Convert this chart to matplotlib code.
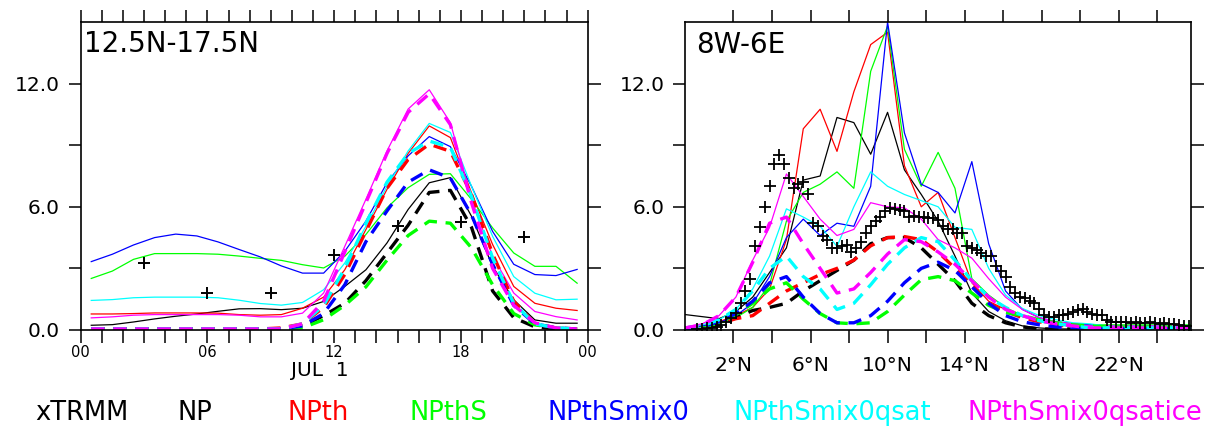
import numpy as np
import matplotlib
matplotlib.use("Agg")
import matplotlib.pyplot as plt
from matplotlib.ticker import FixedLocator, FuncFormatter

# DATOS PANEL IZQUIERDO (ciclo diurno, 12.5N-17.5N)

hours = np.arange(0.5, 24, 1.0)

trmm_hours = [3, 6, 9, 12, 15, 18, 21]
trmm_diurnal = [3.25, 1.8, 1.8, 3.64, 5.05, 5.25, 4.53]

np_solid = [0.23, 0.26, 0.39, 0.54, 0.67, 0.78, 0.91, 1.03, 1.04, 0.99, 1.06, 1.39,
            2.12, 2.93, 4.24, 5.87, 7.17, 7.42, 5.54, 3.10, 1.47, 0.49, 0.33, 0.33]
npth_solid = [0.78, 0.78, 0.80, 0.83, 0.83, 0.83, 0.82, 0.75, 0.72, 0.75, 1.06, 1.60,
              2.93, 4.89, 6.85, 8.60, 9.94, 9.37, 6.68, 4.16, 2.12, 1.30, 1.06, 0.95]
npths_solid = [2.51, 2.87, 3.44, 3.72, 3.72, 3.72, 3.69, 3.60, 3.49, 3.39, 3.18, 3.02,
               3.59, 4.65, 5.95, 6.93, 7.58, 7.61, 6.36, 4.97, 3.75, 3.10, 3.10, 2.28]
mix0_solid = [3.33, 3.69, 4.14, 4.50, 4.67, 4.58, 4.29, 3.92, 3.56, 3.12, 2.77, 2.77,
              3.83, 5.30, 7.17, 8.48, 9.42, 8.93, 7.00, 4.80, 3.20, 2.70, 2.65, 2.95]
qsat_solid = [1.44, 1.48, 1.57, 1.60, 1.60, 1.60, 1.57, 1.45, 1.29, 1.21, 1.34, 1.96,
              3.26, 5.05, 7.00, 8.72, 10.06, 9.62, 7.00, 4.56, 2.60, 1.79, 1.47, 1.50]
qsatice_solid = [0.59, 0.64, 0.72, 0.75, 0.75, 0.75, 0.75, 0.72, 0.64, 0.64, 0.82, 1.80,
                 4.07, 6.36, 8.72, 10.76, 11.70, 10.10, 6.36, 3.59, 1.80, 0.90, 0.65, 0.49]

np_dash = [0.05, 0.05, 0.05, 0.05, 0.05, 0.05, 0.05, 0.05, 0.05, 0.05, 0.2, 0.7,
           1.3, 2.4, 3.75, 5.1, 6.7, 6.8, 5.0, 1.9, 0.6, 0.15, 0.05, 0.05]
npth_dash = [0.05, 0.05, 0.05, 0.05, 0.05, 0.05, 0.05, 0.05, 0.05, 0.1, 0.3, 1.1,
             2.7, 4.8, 6.9, 8.3, 9.05, 8.7, 6.6, 3.7, 1.4, 0.3, 0.1, 0.05]
npths_dash = [0.05, 0.05, 0.05, 0.05, 0.05, 0.05, 0.05, 0.05, 0.05, 0.05, 0.1, 0.5,
              1.2, 2.1, 3.4, 4.6, 5.3, 5.2, 4.0, 2.2, 0.8, 0.25, 0.1, 0.05]
mix0_dash = [0.05, 0.05, 0.05, 0.05, 0.05, 0.05, 0.05, 0.05, 0.05, 0.05, 0.2, 0.8,
             2.2, 4.3, 5.8, 7.2, 7.8, 7.4, 5.6, 3.2, 1.2, 0.3, 0.1, 0.05]
qsat_dash = [0.05, 0.05, 0.05, 0.05, 0.05, 0.05, 0.05, 0.05, 0.05, 0.05, 0.3, 1.2,
             3.0, 5.2, 7.2, 8.6, 9.2, 8.9, 6.5, 3.5, 1.3, 0.3, 0.1, 0.05]
qsatice_dash = [0.05, 0.05, 0.05, 0.05, 0.05, 0.05, 0.05, 0.05, 0.05, 0.05, 0.3, 1.4,
                3.8, 6.2, 8.6, 10.6, 11.5, 10.0, 6.2, 3.0, 1.2, 0.35, 0.1, 0.05]

# DATOS PANEL DERECHO (perfil en latitud, 8W-6E)

lat_model = np.arange(-0.5, 25.8, 0.875)

np_lat = [0.75, 0.65, 0.55, 0.9, 1.6, 2.8, 4.0, 7.3, 7.5, 10.35, 10.1, 8.56, 10.6, 7.8, 6.6, 5.3,
          3.6, 1.8, 0.9, 0.45, 0.2, 0.1, 0.05, 0.05, 0.05, 0.05, 0.05, 0.05, 0.05, 0.05, 0.05]
npth_lat = [0.15, 0.2, 0.4, 0.7, 1.1, 2.0, 4.4, 9.8, 10.75, 8.7, 11.6, 13.9, 14.5, 8.0, 6.0, 6.7,
            4.5, 2.3, 1.4, 1.0, 0.65, 0.45, 0.3, 0.2, 0.15, 0.1, 0.05, 0.05, 0.05, 0.05, 0.05]
npths_lat = [0.1, 0.15, 0.3, 0.6, 1.1, 2.2, 5.3, 6.7, 7.1, 7.7, 6.9, 12.6, 14.8, 8.8, 7.0, 8.65,
             6.9, 2.5, 1.7, 1.1, 0.7, 0.5, 0.4, 0.3, 0.25, 0.25, 0.25, 0.25, 0.25, 0.25, 0.25]
mix0_lat = [0.1, 0.2, 0.35, 0.7, 1.3, 2.6, 4.5, 5.4, 4.6, 5.2, 5.05, 7.0, 15.0, 9.6, 7.1, 6.7,
            5.7, 8.2, 4.2, 1.9, 1.0, 0.6, 0.4, 0.3, 0.25, 0.2, 0.2, 0.2, 0.2, 0.2, 0.2]
qsat_lat = [0.15, 0.25, 0.5, 1.0, 2.0, 3.6, 5.9, 5.5, 5.05, 4.07, 6.0, 7.7, 7.0, 6.6, 6.3, 6.0,
            5.0, 4.9, 3.0, 1.7, 1.05, 0.7, 0.5, 0.35, 0.3, 0.2, 0.2, 0.2, 0.2, 0.2, 0.2]
qsatice_lat = [0.15, 0.3, 0.7, 1.6, 3.4, 5.0, 7.6, 6.5, 5.4, 4.6, 4.9, 6.2, 6.0, 5.95, 5.4, 4.4,
               4.0, 3.5, 2.5, 1.6, 1.0, 0.6, 0.4, 0.3, 0.2, 0.2, 0.2, 0.2, 0.2, 0.2, 0.2]

np_lat_dash = [0.05, 0.1, 0.25, 0.6, 0.95, 1.1, 1.3, 1.9, 2.4, 2.9, 3.4, 4.2, 4.5, 4.5, 4.0, 3.2,
               2.4, 1.3, 0.7, 0.35, 0.15, 0.05, 0.05, 0.05, 0.05, 0.05, 0.05, 0.05, 0.05, 0.05, 0.05]
npth_lat_dash = [0.05, 0.1, 0.3, 0.55, 0.7, 1.3, 1.9, 2.3, 2.7, 3.0, 3.4, 4.1, 4.5, 4.55, 4.4, 3.8,
                 3.0, 2.2, 1.3, 0.9, 0.6, 0.4, 0.25, 0.15, 0.1, 0.05, 0.05, 0.05, 0.05, 0.05, 0.05]
npths_lat_dash = [0.05, 0.1, 0.35, 0.75, 1.3, 2.0, 2.3, 1.5, 0.8, 0.35, 0.3, 0.35, 0.9, 1.7, 2.45, 2.6,
                  2.4, 1.8, 1.2, 0.85, 0.7, 0.5, 0.35, 0.25, 0.2, 0.15, 0.15, 0.15, 0.15, 0.15, 0.15]
mix0_lat_dash = [0.05, 0.15, 0.4, 0.8, 1.4, 2.3, 2.6, 1.6, 0.8, 0.35, 0.35, 0.7, 1.4, 2.3, 3.0, 3.3,
                 2.9, 2.1, 1.3, 0.7, 0.4, 0.25, 0.15, 0.1, 0.05, 0.05, 0.05, 0.05, 0.05, 0.05, 0.05]
qsat_lat_dash = [0.1, 0.2, 0.5, 1.0, 1.9, 3.0, 3.6, 2.6, 2.0, 1.0, 1.3, 2.2, 3.2, 4.0, 4.5, 4.3,
                 3.4, 2.4, 1.6, 1.1, 0.7, 0.45, 0.3, 0.2, 0.1, 0.1, 0.1, 0.1, 0.1, 0.1, 0.1]
qsatice_lat_dash = [0.1, 0.25, 0.7, 1.6, 3.3, 5.2, 5.5, 4.2, 3.0, 1.8, 2.0, 2.8, 3.7, 4.4, 4.3, 3.8,
                    3.2, 2.4, 1.6, 1.0, 0.7, 0.45, 0.3, 0.2, 0.1, 0.1, 0.1, 0.1, 0.1, 0.1, 0.1]

# TRMM cada 0.25 grados desde 0.125N
trmm_lat_rain = [0.05, 0.05, 0.08, 0.1, 0.15, 0.25, 0.4, 0.6, 0.85, 1.3,
                 1.9, 2.5, 4.1, 5.0, 6.0, 7.0, 8.1, 8.5, 8.1, 7.4,
                 6.9, 7.1, 7.2, 6.6, 5.2, 5.05, 4.6, 4.4, 4.0, 4.0,
                 4.07, 4.15, 3.8, 4.0, 4.3, 4.7, 5.05, 5.3, 5.5, 5.8,
                 5.95, 5.87, 5.84, 5.8, 5.5, 5.57, 5.5, 5.5, 5.46, 5.46,
                 5.38, 5.05, 4.9, 4.9, 4.73, 4.73, 4.07, 4.0, 3.9, 3.75,
                 3.59, 3.59, 3.1, 2.85, 2.6, 2.1, 1.8, 1.63, 1.55, 1.4,
                 1.3, 1.0, 0.73, 0.65, 0.65, 0.73, 0.73, 0.8, 0.9, 0.95,
                 1.0, 0.9, 0.8, 0.73, 0.73, 0.5, 0.4, 0.4, 0.4, 0.4,
                 0.35, 0.4, 0.35, 0.35, 0.4, 0.35, 0.3, 0.35, 0.3, 0.3,
                 0.25, 0.2, 0.2]
trmm_lat = 0.125 + 0.25 * np.arange(len(trmm_lat_rain))

experimentos = ["NP", "NPth", "NPthS", "NPthSmix0", "NPthSmix0qsat", "NPthSmix0qsatice"]
colores = ["black", "red", "#00ff00", "blue", "cyan", "magenta"]

diurno_solid = [np_solid, npth_solid, npths_solid, mix0_solid, qsat_solid, qsatice_solid]
diurno_dash = [np_dash, npth_dash, npths_dash, mix0_dash, qsat_dash, qsatice_dash]
lat_solid = [np_lat, npth_lat, npths_lat, mix0_lat, qsat_lat, qsatice_lat]
lat_dash = [np_lat_dash, npth_lat_dash, npths_lat_dash, mix0_lat_dash, qsat_lat_dash, qsatice_lat_dash]

# FIGURA

fig = plt.figure(figsize=(12.17, 4.33), dpi=100)
ax1 = fig.add_axes([0.0663, 0.2379, 0.4166, 0.7113])
ax2 = fig.add_axes([0.5631, 0.2379, 0.4155, 0.7113])

dash_style = (0, (4, 2.6))

for c, s in zip(colores, diurno_solid):
    ax1.plot(hours, s, color=c, lw=0.9)
for c, d in zip(colores, diurno_dash):
    ax1.plot(hours, d, color=c, lw=2.4, linestyle=dash_style)
ax1.plot(trmm_hours, trmm_diurnal, linestyle="none", marker="+",
         color="black", ms=9, mew=1.4)

for c, s in zip(colores, lat_solid):
    ax2.plot(lat_model, s, color=c, lw=0.9)
for c, d in zip(colores, lat_dash):
    ax2.plot(lat_model, d, color=c, lw=2.4, linestyle=dash_style)
ax2.plot(trmm_lat, trmm_lat_rain, linestyle="none", marker="+",
         color="black", ms=9, mew=1.3)

# EJES

for ax in (ax1, ax2):
    ax.set_ylim(0, 15)
    ax.yaxis.set_major_locator(FixedLocator([0, 6, 12]))
    ax.yaxis.set_minor_locator(FixedLocator([3, 9]))
    ax.yaxis.set_major_formatter(FuncFormatter(lambda v, p: f"{v:.1f}"))
    ax.tick_params(which="both", direction="out", length=9, width=1.1,
                   top=True, right=True)
    ax.tick_params(axis="y", labelsize=14.5, pad=6)
    for sp in ax.spines.values():
        sp.set_linewidth(1.2)

ax1.set_xlim(0, 24)
ax1.xaxis.set_major_locator(FixedLocator([0, 6, 12, 18, 24]))
ax1.xaxis.set_minor_locator(FixedLocator(list(range(1, 24))))
ax1.xaxis.set_major_formatter(FuncFormatter(lambda v, p: f"{int(v) % 24:02d}"))
ax1.tick_params(axis="x", labelsize=10.5, pad=2)

ax2.set_xlim(-0.5, 25.75)
ax2.xaxis.set_major_locator(FixedLocator([2, 6, 10, 14, 18, 22]))
ax2.xaxis.set_minor_locator(FixedLocator([4, 8, 12, 16, 20, 24]))
ax2.xaxis.set_major_formatter(FuncFormatter(lambda v, p: f"{int(v)}°N"))
ax2.tick_params(axis="x", labelsize=14.5, pad=10)

ax1.text(0.006, 0.93, "12.5N-17.5N", transform=ax1.transAxes,
         fontsize=20, va="center", ha="left")
ax2.text(0.022, 0.925, "8W-6E", transform=ax2.transAxes,
         fontsize=20, va="center", ha="left")

fig.text(320 / 1217, 1 - 370 / 433, "JUL  1", fontsize=14.5, ha="center", va="center")

# LEYENDA

etiquetas = ["xTRMM"] + experimentos
colores_ley = ["black"] + colores
x_ley = [35, 177, 287, 409, 547, 734, 967]
for txt, c, xp in zip(etiquetas, colores_ley, x_ley):
    fig.text(xp / 1217, 1 - 413 / 433, txt, color=c, fontsize=18.5,
             ha="left", va="center")

fig.savefig("out.png", dpi=100)
